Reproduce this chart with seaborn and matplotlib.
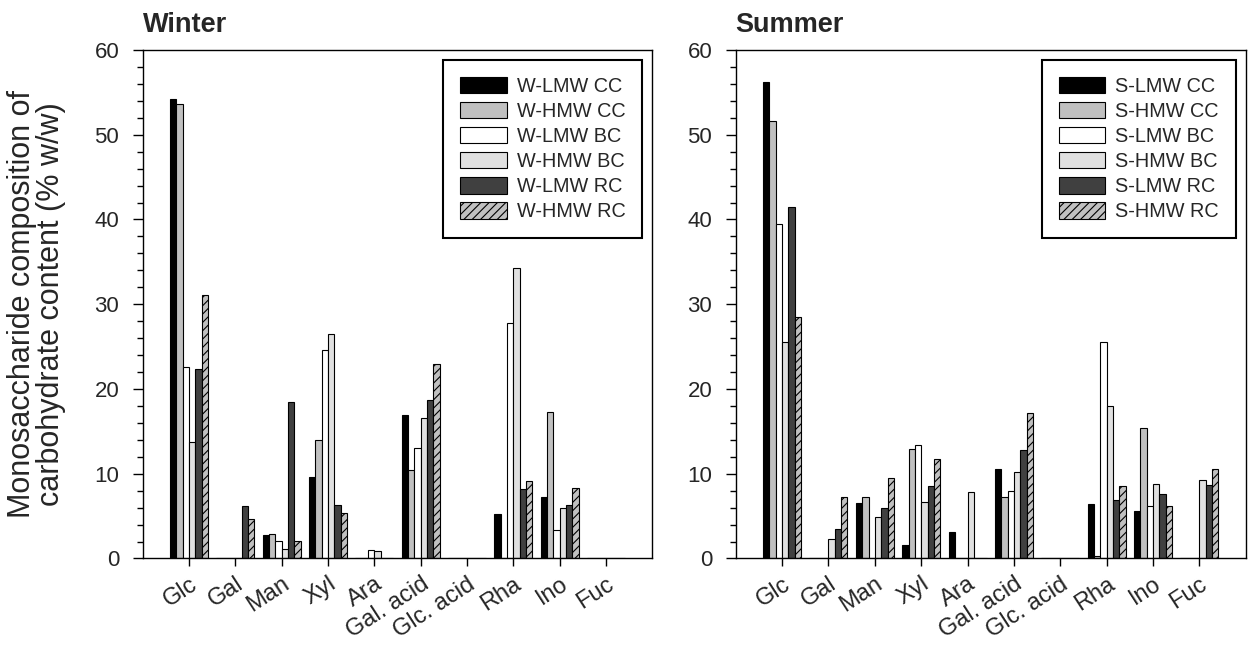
import numpy as np
import pandas as pd
import seaborn as sns
import matplotlib.pyplot as plt
from matplotlib.ticker import MultipleLocator

# ---- data ----
sugars = ['Glc', 'Gal', 'Man', 'Xyl', 'Ara', 'Gal. acid', 'Glc. acid', 'Rha', 'Ino', 'Fuc']

winter_labels = ['W-LMW CC', 'W-HMW CC', 'W-LMW BC', 'W-HMW BC', 'W-LMW RC', 'W-HMW RC']
w_lmw_cc = [54.2, 0, 2.8, 9.6, 0, 16.9, 0, 5.3, 7.3, 0]
w_hmw_cc = [53.6, 0, 2.9, 14.0, 0, 10.4, 0, 0, 17.3, 0]
w_lmw_bc = [22.6, 0, 2.1, 24.6, 1.0, 13.0, 0, 27.8, 3.4, 0]
w_hmw_bc = [13.8, 0, 1.1, 26.5, 0.9, 16.6, 0, 34.3, 5.9, 0]
w_lmw_rc = [22.4, 6.2, 18.5, 6.3, 0, 18.7, 0, 8.2, 6.3, 0]
w_hmw_rc = [31.1, 4.7, 2.1, 5.4, 0, 23.0, 0, 9.1, 8.3, 0]

summer_labels = ['S-LMW CC', 'S-HMW CC', 'S-LMW BC', 'S-HMW BC', 'S-LMW RC', 'S-HMW RC']
s_lmw_cc = [56.2, 0, 6.6, 1.6, 3.1, 10.5, 0, 6.4, 5.6, 0]
s_hmw_cc = [51.6, 0, 7.2, 12.9, 0, 7.2, 0, 0.3, 15.4, 0]
s_lmw_bc = [39.5, 0, 0, 13.4, 0, 8.0, 0, 25.6, 6.2, 0]
s_hmw_bc = [25.6, 2.3, 4.85, 6.7, 7.8, 10.2, 0, 18.0, 8.8, 9.3]
s_lmw_rc = [41.5, 3.5, 5.9, 8.6, 0, 12.8, 0, 6.9, 7.6, 8.7]
s_hmw_rc = [28.5, 7.2, 9.55, 11.7, 0, 17.2, 0, 8.6, 6.2, 10.5]

colors = ['#000000', '#c0c0c0', '#ffffff', '#e0e0e0', '#404040', '#c0c0c0']


def to_long(labels, series):
    rows = []
    for lab, vals in zip(labels, series):
        for s, v in zip(sugars, vals):
            rows.append({'sugar': s, 'series': lab, 'value': v})
    return pd.DataFrame(rows)


sns.set_style('ticks')
plt.rcParams['font.family'] = ['Liberation Sans', 'DejaVu Sans']
plt.rcParams['hatch.linewidth'] = 0.8

fig = plt.figure(figsize=(12.5, 6.46), dpi=100)
ax_w = fig.add_axes([0.1142, 0.1355, 0.4077, 0.7871])
ax_s = fig.add_axes([0.5886, 0.1355, 0.4080, 0.7871])

panels = [
    (ax_w, 'Winter', winter_labels, [w_lmw_cc, w_hmw_cc, w_lmw_bc, w_hmw_bc, w_lmw_rc, w_hmw_rc]),
    (ax_s, 'Summer', summer_labels, [s_lmw_cc, s_hmw_cc, s_lmw_bc, s_hmw_bc, s_lmw_rc, s_hmw_rc]),
]

for ax, title, labels, series in panels:
    df = to_long(labels, series)
    sns.barplot(data=df, x='sugar', y='value', hue='series', order=sugars,
                hue_order=labels, palette=dict(zip(labels, colors)),
                width=0.82, edgecolor='black', linewidth=0.8, errorbar=None,
                legend=False, ax=ax)
    # last series hatched
    for patch in ax.containers[-1]:
        patch.set_hatch('////')

    ax.set_xlim(-1, 10)
    ax.set_ylim(0, 60)
    ax.yaxis.set_major_locator(MultipleLocator(10))
    ax.yaxis.set_minor_locator(MultipleLocator(2))
    ax.tick_params(axis='y', which='major', direction='out', length=7, width=1,
                   labelsize=16, pad=10, color='black')
    ax.tick_params(axis='y', which='minor', direction='out', length=4.3, width=1, color='black')
    ax.tick_params(axis='x', direction='out', length=6, width=1, labelsize=17, pad=4.5, color='black')
    for lbl in ax.get_xticklabels():
        lbl.set_rotation(33)
        lbl.set_ha('right')
        lbl.set_rotation_mode('anchor')
    for sp in ax.spines.values():
        sp.set_visible(True)
        sp.set_color('black')
        sp.set_linewidth(1)
    ax.set_xlabel('')
    ax.set_ylabel('')
    ax.set_title(title, loc='left', fontsize=19.5, fontweight='bold', pad=13)

    ax.legend(ax.containers, labels, loc='upper right', fontsize=14.3,
              frameon=True, fancybox=False, edgecolor='black', framealpha=1,
              handlelength=2.35, handleheight=0.9, labelspacing=0.3,
              handletextpad=0.5, borderpad=0.85, borderaxespad=0.5)
    ax.get_legend().get_frame().set_linewidth(1.5)

ax_w.set_ylabel('Monosaccharide composition of\ncarbohydrate content (% w/w)',
                fontsize=22, linespacing=0.95)
ax_w.yaxis.set_label_coords(-0.1505, 0.5)

fig.savefig('out.png', dpi=100)
